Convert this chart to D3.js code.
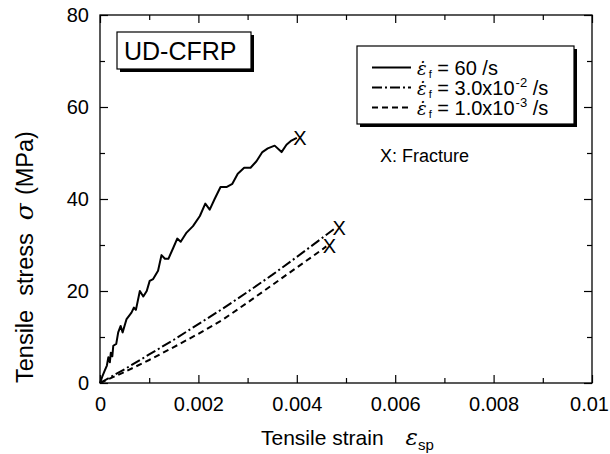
<!DOCTYPE html>
<html>
<head>
<meta charset="utf-8">
<script src="https://cdn.jsdelivr.net/npm/d3@7"></script>
<style>
  body { margin: 0; background: #fff; }
  svg { font-family: "Liberation Sans", Arial, sans-serif; }
</style>
</head>
<body>
<svg></svg>
<script>
// Data
const strain60 = [0, 0.00005, 0.0001, 0.00014, 0.00017, 0.0002, 0.00022, 0.00025, 0.00027, 0.00033, 0.00037, 0.00042, 0.00046, 0.00054, 0.00064, 0.00069, 0.00073, 0.00081, 0.00088, 0.00095, 0.00101, 0.00108, 0.00118, 0.00125, 0.00132, 0.00139, 0.00149, 0.00157, 0.00164, 0.00176, 0.00189, 0.00203, 0.00214, 0.00223, 0.00233, 0.00245, 0.00257, 0.00269, 0.0028, 0.00293, 0.00306, 0.00318, 0.0033, 0.00341, 0.00355, 0.00369, 0.00379, 0.00389, 0.004];
const stress60 = [0, 1.5, 2.8, 3.8, 5.6, 4.5, 6.6, 5.8, 8.1, 8.5, 11, 12.4, 11, 13.9, 15.3, 16.4, 15.9, 20, 18.8, 20, 22.2, 22.6, 24.4, 27.8, 27, 27, 29.4, 31.4, 30.7, 32.7, 34.1, 36.3, 39, 37.7, 40, 42.6, 42.6, 43.3, 45.5, 46.8, 46.8, 48.2, 50.2, 51, 51.6, 50.2, 51.8, 52.7, 53.3];

const strain3e2 = [0, 0.0005, 0.001, 0.0015, 0.002, 0.0025, 0.003, 0.0035, 0.004, 0.0045, 0.0048];
const stress3e2 = [0, 3.0, 6.2, 9.4, 12.8, 16.2, 19.8, 23.5, 27.4, 31.4, 33.8];

const strain1e3 = [0, 0.0005, 0.001, 0.0015, 0.002, 0.0025, 0.003, 0.0035, 0.004, 0.0045, 0.0046];
const stress1e3 = [0, 2.4, 5.0, 7.8, 10.7, 13.8, 17.5, 21.3, 25.1, 28.9, 29.7];

const xTicks = [0, 0.002, 0.004, 0.006, 0.008, 0.01];
const xTickLabels = ["0", "0.002", "0.004", "0.006", "0.008", "0.01"];
const yTicks = [0, 20, 40, 60, 80];

// Dimensioner
const width = 610;
const height = 454;
const margin = { top: 15, right: 18, bottom: 71, left: 100 };

const xScale = d3.scaleLinear()
  .domain([0, 0.01])
  .range([margin.left, width - margin.right]);

const yScale = d3.scaleLinear()
  .domain([0, 80])
  .range([height - margin.bottom, margin.top]);

const svg = d3.select("svg")
  .attr("width", width)
  .attr("height", height);

// Ramme
svg.append("rect")
  .attr("x", margin.left)
  .attr("y", margin.top)
  .attr("width", width - margin.left - margin.right)
  .attr("height", height - margin.top - margin.bottom)
  .attr("fill", "none")
  .attr("stroke", "#000")
  .attr("stroke-width", 1.3);

// Akser - ticks peger ind
function styleAxis(g) {
  g.select(".domain").remove();
  g.selectAll("line").attr("stroke", "#000").attr("stroke-width", 1.2);
  g.selectAll("text").attr("fill", "#000").style("font-size", "20px");
}

const xMinor = d3.range(1, 10, 2).map(d => d / 1000);
const yMinor = [10, 30, 50, 70];

// Bund
const xAxisG = svg.append("g")
  .attr("transform", `translate(0,${height - margin.bottom})`)
  .call(d3.axisBottom(xScale).tickValues(xTicks).tickSize(-8).tickPadding(14)
    .tickFormat((d, i) => xTickLabels[i]))
  .call(styleAxis);
// sidste label holdes inden for kanten
xAxisG.selectAll("text").filter(d => d === 0.01).attr("dx", -3);
svg.append("g")
  .attr("transform", `translate(0,${height - margin.bottom})`)
  .call(d3.axisBottom(xScale).tickValues(xMinor).tickSize(-5).tickFormat(""))
  .call(styleAxis);
// Top
svg.append("g")
  .attr("transform", `translate(0,${margin.top})`)
  .call(d3.axisTop(xScale).tickValues(xTicks).tickSize(-8).tickFormat(""))
  .call(styleAxis);
svg.append("g")
  .attr("transform", `translate(0,${margin.top})`)
  .call(d3.axisTop(xScale).tickValues(xMinor).tickSize(-5).tickFormat(""))
  .call(styleAxis);
// Venstre
svg.append("g")
  .attr("transform", `translate(${margin.left},0)`)
  .call(d3.axisLeft(yScale).tickValues(yTicks).tickSize(-8).tickPadding(11))
  .call(styleAxis);
svg.append("g")
  .attr("transform", `translate(${margin.left},0)`)
  .call(d3.axisLeft(yScale).tickValues(yMinor).tickSize(-5).tickFormat(""))
  .call(styleAxis);
// Højre
svg.append("g")
  .attr("transform", `translate(${width - margin.right},0)`)
  .call(d3.axisRight(yScale).tickValues(yTicks).tickSize(-8).tickFormat(""))
  .call(styleAxis);
svg.append("g")
  .attr("transform", `translate(${width - margin.right},0)`)
  .call(d3.axisRight(yScale).tickValues(yMinor).tickSize(-5).tickFormat(""))
  .call(styleAxis);

// Akse titler
const xTitle = svg.append("text")
  .attr("x", 261)
  .attr("y", 445)
  .style("font-size", "21px");
xTitle.append("tspan").text("Tensile strain");
xTitle.append("tspan").attr("dx", 22).style("font-style", "italic").style("font-family", "DejaVu Serif").style("font-size", "23px").text("ε");
xTitle.append("tspan").attr("dy", 5).style("font-size", "15px").text("sp");

const yTitle = svg.append("text")
  .attr("transform", "translate(33,383) rotate(-90)")
  .style("font-size", "23.5px");
yTitle.append("tspan").text("Tensile");
yTitle.append("tspan").attr("dx", 14).text("stress");
yTitle.append("tspan").attr("dx", 13).style("font-style", "italic").style("font-family", "DejaVu Serif").style("font-size", "25px").text("σ");
yTitle.append("tspan").attr("dx", 8).text("(MPa)");

// Kurver
const series = [
  { x: strain60, y: stress60, dash: null },
  { x: strain3e2, y: stress3e2, dash: "10,3,2,3" },
  { x: strain1e3, y: stress1e3, dash: "6,4" }
];

const line = d3.line()
  .x(d => xScale(d[0]))
  .y(d => yScale(d[1]));

series.forEach(s => {
  const pts = s.x.map((v, i) => [v, s.y[i]]);
  svg.append("path")
    .datum(pts)
    .attr("d", line)
    .attr("fill", "none")
    .attr("stroke", "#000")
    .attr("stroke-width", 2)
    .attr("stroke-linejoin", "round")
    .attr("stroke-dasharray", s.dash);
  // Brud-markering
  const last = pts[pts.length - 1];
  svg.append("text")
    .attr("x", xScale(last[0]) + 3)
    .attr("y", yScale(last[1]) + 7)
    .attr("text-anchor", "middle")
    .style("font-size", "20px")
    .text("X");
});

// Bokse med skygge
function shadowBox(x, y, w, h) {
  svg.append("rect").attr("x", x + 3).attr("y", y + 3).attr("width", w).attr("height", h).attr("fill", "#000");
  svg.append("rect").attr("x", x).attr("y", y).attr("width", w).attr("height", h)
    .attr("fill", "#fff").attr("stroke", "#000").attr("stroke-width", 1.2);
}

shadowBox(117, 32, 134, 37);
svg.append("text")
  .attr("x", 124)
  .attr("y", 60)
  .style("font-size", "25px")
  .text("UD-CFRP");

// Legend
shadowBox(357, 46, 217, 78);
const legendRows = [
  { dash: null, base: "60 /s", sup: "" },
  { dash: "10,3,2,3", base: "3.0x10", sup: "-2" },
  { dash: "6,4", base: "1.0x10", sup: "-3" }
];
legendRows.forEach((r, i) => {
  const y = 67.5 + i * 20;
  svg.append("line")
    .attr("x1", 372).attr("x2", 411)
    .attr("y1", y).attr("y2", y)
    .attr("stroke", "#000").attr("stroke-width", 2)
    .attr("stroke-dasharray", r.dash);
  const t = svg.append("text")
    .attr("x", 417)
    .attr("y", y + 7)
    .style("font-size", "20px");
  t.append("tspan").style("font-style", "italic").style("font-family", "DejaVu Serif").style("font-size", "18px").text("ε̇");
  t.append("tspan").attr("dx", 2).attr("dy", 3).style("font-size", "11px").text("f");
  t.append("tspan").attr("dy", -3).text(" = " + r.base);
  if (r.sup) {
    t.append("tspan").attr("dx", 1).attr("dy", -8).style("font-size", "13px").text(r.sup);
    t.append("tspan").attr("dy", 8).text(" /s");
  }
});

svg.append("text")
  .attr("x", 380)
  .attr("y", 162)
  .style("font-size", "18px")
  .text("X: Fracture");
</script>
</body>
</html>
